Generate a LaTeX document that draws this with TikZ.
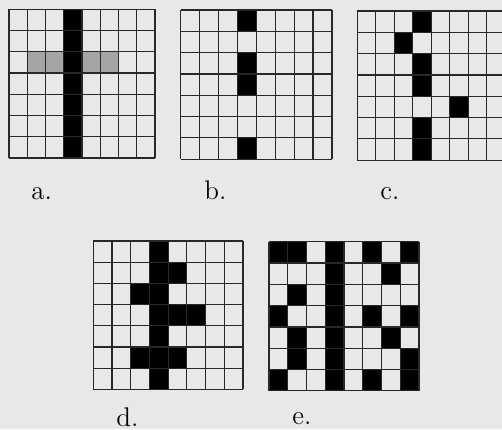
\documentclass[tikz,border=0pt]{standalone}
\definecolor{paper}{RGB}{232,232,232}
\definecolor{stipple}{RGB}{165,165,165}
\definecolor{rule}{RGB}{40,40,40}
\tikzset{
  gridline/.style={draw=rule, line width=0.6pt},
  blackcell/.style={fill=black},
  dotcell/.style={fill=stipple},
  caption/.style={inner sep=0pt, anchor=base west, font=\fontsize{13.5}{16}\selectfont}
}
% #1 x0, #2 y0, #3 cell width, #4 cell height, #5 black cells, #6 stippled cells
\newcommand{\drawcellgrid}[6]{%
  \begin{scope}[shift={(#1,#2)}]
    \foreach \c/\r in {#6} {\fill[dotcell] ({\c*#3},{\r*#4}) rectangle ++(#3,#4);}
    \foreach \c/\r in {#5} {\fill[blackcell] ({\c*#3},{\r*#4}) rectangle ++(#3,#4);}
    \foreach \i in {0,...,8} {\draw[gridline] ({\i*#3},0) -- ({\i*#3},{7*#4});}
    \foreach \j in {0,...,7} {\draw[gridline] (0,{\j*#4}) -- ({8*#3},{\j*#4});}
  \end{scope}}
\begin{document}
\begin{tikzpicture}[x=0.5pt,y=-0.5pt]
  \useasboundingbox (0,0) rectangle (502,429);
  \fill[paper] (0,0) rectangle (502,429);
  \clip (0,0) rectangle (502,429);
  % a.
  \drawcellgrid{9}{9.3}{18.25}{21.25}{3/0,3/1,3/2,3/3,3/4,3/5,3/6}{1/2,2/2,4/2,5/2}
  % b.
  \drawcellgrid{180.7}{10}{18.9}{21.3}{3/0,3/2,3/3,3/6}{}
  % c.
  \drawcellgrid{357.3}{11}{18.5}{21.3}{3/0,2/1,3/2,3/3,5/4,3/5,3/6}{}
  % d.
  \drawcellgrid{93.3}{241}{18.7}{21.2}{3/0,3/1,3/2,3/3,3/4,3/5,3/6,4/1,2/2,4/3,5/3,2/5,4/5}{}
  % e.
  \drawcellgrid{269}{241.7}{18.75}{21.3}{3/0,3/1,3/2,3/3,3/4,3/5,3/6,0/0,1/0,5/0,7/0,6/1,1/2,0/3,5/3,7/3,1/4,6/4,1/5,7/5,0/6,5/6,7/6}{}
  % captions
  \node[caption] (la) at (31,199) {a.};
  \node[caption] (lb) at (204,199) {b.};
  \node[caption] (lc) at (380,199) {c.};
  \node[caption] (ld) at (116,426) {d.};
  \node[caption] (le) at (292,424) {e.};
\end{tikzpicture}
\end{document}
